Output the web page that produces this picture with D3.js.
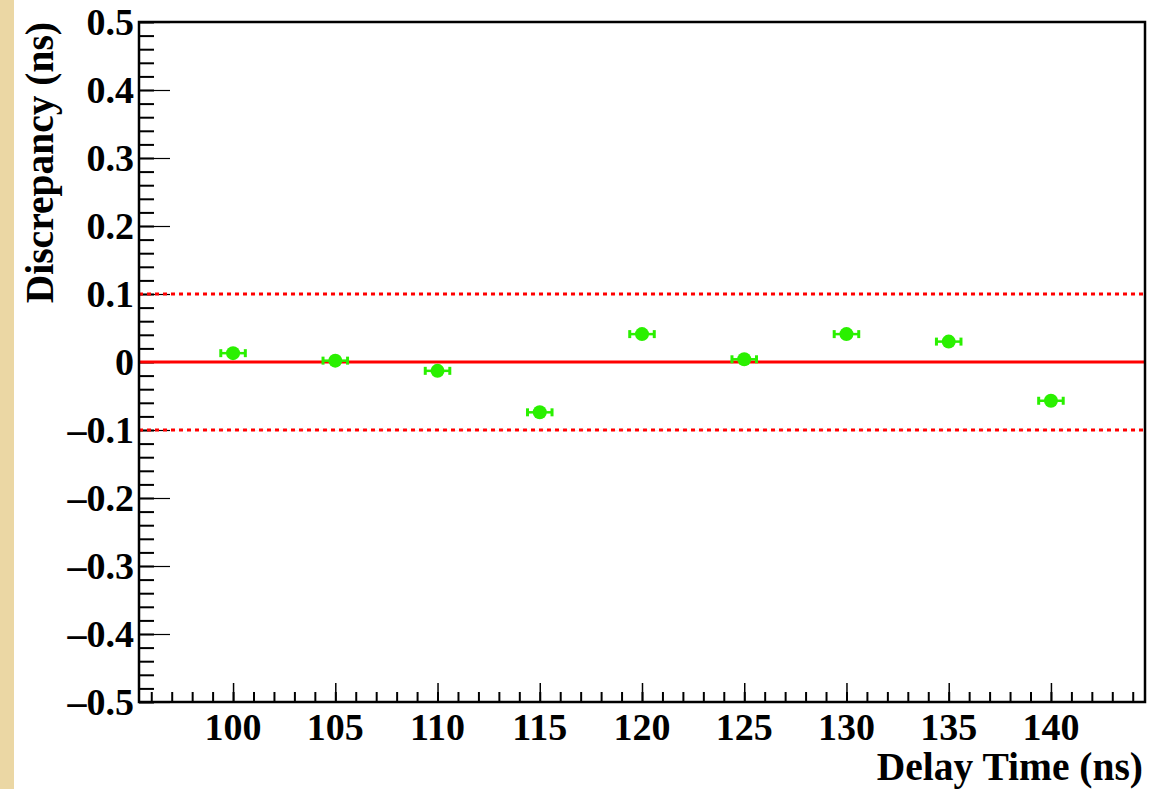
<!DOCTYPE html>
<html>
<head>
<meta charset="utf-8">
<script src="https://cdn.jsdelivr.net/npm/d3@7"></script>
<style>
  body{margin:0;background:#fff}
  text{font-family:"Liberation Serif","Times New Roman",serif;font-weight:bold;fill:#000}
</style>
</head>
<body>
<div id="chart"></div>
<script>
// delay time points and measured discrepancy
let delayTimes=[100,105,110,115,120,125,130,135,140]
let discrepancy=[0.013,0.002,-0.013,-0.074,0.041,0.004,0.041,0.030,-0.057]
let xErr=[0.6,0.6,0.6,0.6,0.6,0.6,0.6,0.6,0.6]
let yErr=[0.003,0.003,0.003,0.003,0.003,0.003,0.003,0.003,0.003]
let yTicks=[-0.5,-0.4,-0.3,-0.2,-0.1,0,0.1,0.2,0.3,0.4,0.5]
let xTicks=[100,105,110,115,120,125,130,135,140]
let refLines=[{v:0.1,dash:true},{v:0,dash:false},{v:-0.1,dash:true}]

let width=1166, height=789
let padL=139, padR=1145, padT=22, padB=702

let svg=d3.select("#chart").append("svg").attr("width",width).attr("height",height)
svg.append("rect").attr("width",width).attr("height",height).attr("fill","#fff")
// beige strip on the left edge
svg.append("rect").attr("x",0).attr("y",0).attr("width",14).attr("height",height).attr("fill","#ebd7a4")

let xScale=d3.scaleLinear().domain([95.4,144.6]).range([padL,padR])
let yScale=d3.scaleLinear().domain([-0.5,0.5]).range([padB,padT])

// y axis: major ticks (long), minor ticks every 0.02
let yAxis=d3.axisRight(yScale).tickValues(yTicks).tickSize(31).tickFormat("")
let yMinor=d3.axisRight(yScale).tickValues(d3.range(-0.5,0.5001,0.02).map(v=>+v.toFixed(2))).tickSize(15).tickFormat("")
svg.append("g").attr("transform","translate("+padL+",0)").call(yMinor).call(g=>g.select(".domain").remove()).selectAll("line").attr("stroke","#000").attr("stroke-width",2)
svg.append("g").attr("transform","translate("+padL+",0)").call(yAxis).call(g=>g.select(".domain").remove()).selectAll("line").attr("stroke","#000").attr("stroke-width",1.2)

// x axis: major every 5, minor every 1
let xAxis=d3.axisTop(xScale).tickValues(xTicks).tickSize(19).tickFormat("")
let xMinor=d3.axisTop(xScale).tickValues(d3.range(96,145,1)).tickSize(10).tickFormat("")
svg.append("g").attr("transform","translate(0,"+padB+")").call(xMinor).call(g=>g.select(".domain").remove()).selectAll("line").attr("stroke","#000").attr("stroke-width",2)
svg.append("g").attr("transform","translate(0,"+padB+")").call(xAxis).call(g=>g.select(".domain").remove()).selectAll("line").attr("stroke","#000").attr("stroke-width",1.5)

// tick labels
svg.append("g").selectAll("text").data(yTicks).enter().append("text")
  .attr("x",padL-5).attr("y",d=>yScale(d)).attr("dy","0.35em").attr("text-anchor","end")
  .attr("font-size",38).text(d=>d<0 ? "\u2013"+d3.format(".1f")(-d) : (d==0 ? "0" : d3.format(".1f")(d)))
svg.append("g").selectAll("text").data(xTicks).enter().append("text")
  .attr("x",d=>xScale(d)).attr("y",padB+38).attr("text-anchor","middle")
  .attr("font-size",38).text(d=>d)

// reference lines
svg.append("g").selectAll("line").data(refLines).enter().append("line")
  .attr("x1",padL).attr("x2",padR).attr("y1",d=>yScale(d.v)).attr("y2",d=>yScale(d.v))
  .attr("stroke","#ff0000").attr("stroke-width",3).attr("stroke-dasharray",d=>d.dash ? "4,4" : null)

// frame
svg.append("rect").attr("x",padL).attr("y",padT).attr("width",padR-padL).attr("height",padB-padT)
  .attr("fill","none").attr("stroke","#000").attr("stroke-width",2.5)

// data points with error bars
let pts=delayTimes.map((t,i)=>({x:t,y:discrepancy[i],ex:xErr[i],ey:yErr[i]}))
let green="#2af000"
let pg=svg.append("g").selectAll("g").data(pts).enter().append("g")
pg.append("line").attr("x1",d=>xScale(d.x-d.ex)).attr("x2",d=>xScale(d.x+d.ex))
  .attr("y1",d=>yScale(d.y)).attr("y2",d=>yScale(d.y)).attr("stroke",green).attr("stroke-width",2.5)
pg.append("line").attr("x1",d=>xScale(d.x-d.ex)).attr("x2",d=>xScale(d.x-d.ex))
  .attr("y1",d=>yScale(d.y)-4).attr("y2",d=>yScale(d.y)+4).attr("stroke",green).attr("stroke-width",3)
pg.append("line").attr("x1",d=>xScale(d.x+d.ex)).attr("x2",d=>xScale(d.x+d.ex))
  .attr("y1",d=>yScale(d.y)-4).attr("y2",d=>yScale(d.y)+4).attr("stroke",green).attr("stroke-width",3)
pg.append("circle").attr("cx",d=>xScale(d.x)).attr("cy",d=>yScale(d.y)).attr("r",7).attr("fill",green)

// axis titles
svg.append("text").attr("x",1143).attr("y",780).attr("text-anchor","end").attr("font-size",39.5).text("Delay Time (ns)")
svg.append("text").attr("transform","translate(53,22) rotate(-90)").attr("text-anchor","end").attr("font-size",39.5).text("Discrepancy (ns)")
</script>
</body>
</html>
